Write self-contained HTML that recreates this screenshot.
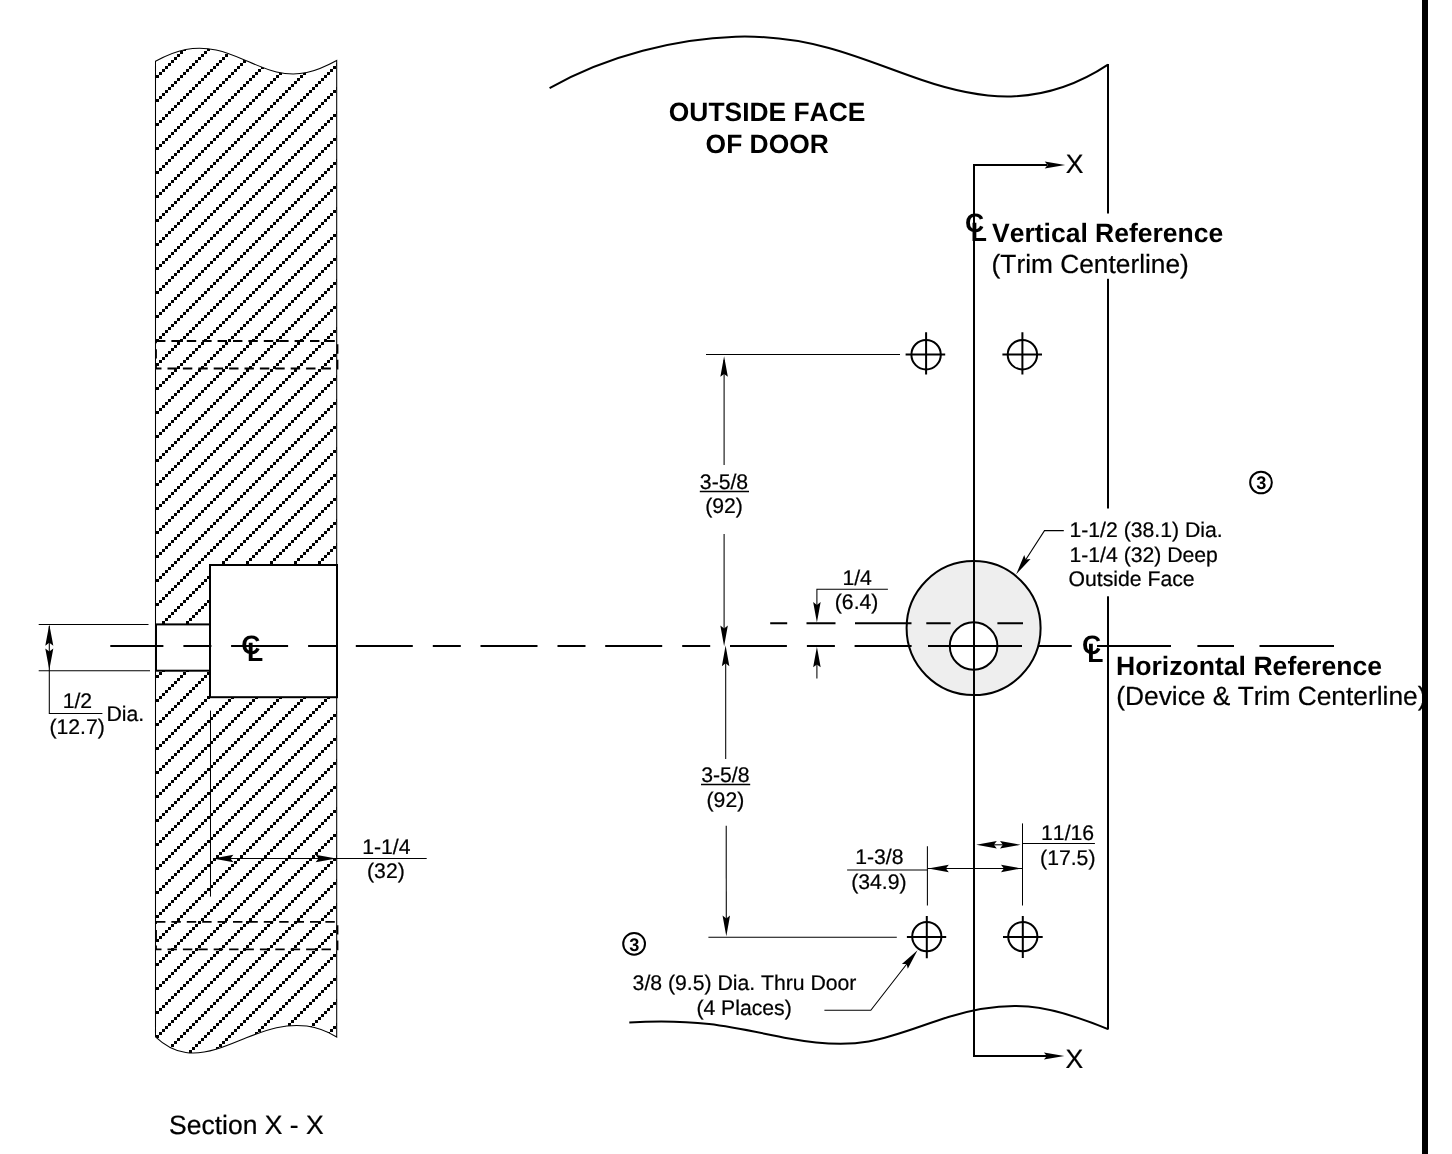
<!DOCTYPE html>
<html lang="en">
<head>
<meta charset="utf-8">
<title>Door Preparation Template</title>
<style>
html,body{margin:0;padding:0;background:#fff;}
body{width:1452px;height:1154px;overflow:hidden;}
svg{display:block;will-change:transform;}
text{font-family:"Liberation Sans",Arial,Helvetica,sans-serif;fill:#000;stroke:none;font-kerning:none;font-variant-ligatures:none;text-rendering:geometricPrecision;}
.d{font-size:21.2px;stroke:#000;stroke-width:.22px;}
.b{font-size:26.5px;font-weight:bold;}
.r{font-size:26.5px;stroke:#000;stroke-width:.22px;}
.k{stroke:#000;stroke-width:2;}
.t{stroke:#000;stroke-width:1.05;}
.a{fill:#000;stroke:none;}
</style>
</head>
<body>
<svg width="1452" height="1154" viewBox="0 0 1452 1154" fill="none">
<defs>
<pattern id="hatch" x="0" y="0" width="24" height="24" patternUnits="userSpaceOnUse" shape-rendering="crispEdges" fill="#000">
<rect x="0" y="15" width="3" height="3"/><rect x="3" y="12" width="3" height="3"/><rect x="6" y="9" width="3" height="3"/><rect x="9" y="6" width="3" height="3"/><rect x="12" y="3" width="3" height="3"/><rect x="15" y="0" width="3" height="3"/><rect x="18" y="21" width="3" height="3"/><rect x="21" y="18" width="3" height="3"/>
</pattern>
<!-- arrowhead pointing right, tip at 0,0 -->
<path id="ah" d="M0.2,0 L-20.4,-3.75 L-17.5,0 L-20.4,3.75 Z"/>
<path id="ah2" d="M0,0 L-20.5,-3.5 L-17.5,0 L-20.5,3.5 Z"/>
</defs>
<rect width="1452" height="1154" fill="#fff"/>

<!-- ============ LEFT: SECTION X-X ============ -->
<g id="section">
<path d="M155.5,61.2 C165.7,55.7 175.8,51.4 185.8,49.5 C195.9,47.5 206.0,47.8 216.1,50.0 C226.1,52.2 236.2,56.3 246.3,60.7 C256.4,65.1 266.5,69.6 276.5,72.0 C286.6,74.4 296.7,74.7 306.8,72.6 C316.8,70.4 326.9,65.8 336.7,60.5 L336.7,1037 C326.9,1031.1 316.8,1027.5 306.8,1026.1 C296.7,1024.7 286.6,1025.5 276.5,1027.7 C266.5,1030.0 256.4,1033.8 246.3,1037.8 C236.2,1041.9 226.1,1046.3 216.1,1049.3 C206.0,1052.3 195.9,1054.0 185.8,1052.5 C175.8,1051.1 165.7,1046.5 155.5,1036.8 Z" fill="url(#hatch)" class="t"/>
<!-- hidden-line rectangles -->
<rect x="156" y="341" width="181.5" height="27.5" class="k" style="stroke-width:1.8" stroke-dasharray="9.4 6"/>
<rect x="156" y="921.9" width="181.5" height="27.5" class="k" style="stroke-width:1.8" stroke-dasharray="9.4 6"/>
<!-- recess + hole -->
<rect x="210" y="565" width="127" height="132.2" fill="#fff" class="k"/>
<rect x="156" y="624.4" width="54" height="46.3" fill="#fff" class="k"/>
<!-- 1-1/4 dimension -->
<line x1="210.5" y1="710.6" x2="210.5" y2="896.6" class="t"/>
<line x1="213" y1="858.4" x2="426.7" y2="858.4" class="t"/>
<use href="#ah" transform="translate(336,858.4)" class="a"/>
<use href="#ah" transform="translate(213,858.4) rotate(180)" class="a"/>
<text class="d" x="386.3" y="854" text-anchor="middle">1-1/4</text>
<text class="d" x="385.9" y="878" text-anchor="middle">(32)</text>
<!-- 1/2 dia dimension -->
<line x1="38.7" y1="624.4" x2="148.5" y2="624.4" class="t"/>
<line x1="38.7" y1="670.8" x2="150" y2="670.8" class="t"/>
<path d="M49.3,626 L49.3,713.4 L102.4,713.4" class="t"/>
<use href="#ah" transform="translate(49.3,624.7) rotate(-90) scale(1.03,1.07)" class="a"/>
<use href="#ah" transform="translate(49.3,669.6) rotate(90) scale(1.03,1.07)" class="a"/>
<text class="d" x="77.4" y="708.4" text-anchor="middle">1/2</text>
<text class="d" x="77.1" y="733.6" text-anchor="middle">(12.7)</text>
<text class="d" x="106.5" y="720.6">Dia.</text>
</g>

<!-- ============ RIGHT: DOOR FACE ============ -->
<g id="face">
<!-- door outline -->
<path d="M549.6,88.1 C580.6,70.4 611.6,58.9 642.7,50.7 C673.7,42.5 704.7,37.7 735.7,36.7 C766.8,35.8 797.8,39.5 828.8,48.0 C859.8,56.4 890.8,69.5 921.9,80.0 C952.9,90.6 983.9,97.8 1014.9,96.3 C1046.0,94.7 1077.0,85.1 1108.0,64.6" class="k"/>
<path d="M629.3,1022.4 C655.9,1020.8 682.5,1020.9 709.1,1024.1 C735.7,1027.2 762.3,1033.5 788.9,1038.4 C815.5,1043.3 842.1,1046.0 868.6,1041.4 C895.2,1036.8 921.8,1025.3 948.4,1017.0 C975.0,1008.8 1001.6,1004.3 1028.2,1006.6 C1054.8,1008.9 1081.4,1018.2 1108.0,1029.1" class="k"/>
<line x1="1108" y1="64" x2="1108" y2="1029.5" class="k"/>
<!-- big circle -->
<circle cx="973.6" cy="628.1" r="67" fill="#eeeeee" class="k"/>
<!-- upper dashed (1/4 offset) line -->
<path d="M770.2,623.3 H787.2 M806.5,623.3 H835.5 M855,623.3 H911.5 M926.3,623.3 H950.6 M997.4,623.3 H1023" class="k"/>
<circle cx="973.6" cy="646" r="23.8" fill="#fff" class="k"/>
<!-- section cut line -->
<path d="M1047,165 H974 V1056 H1047" class="k"/>
<use href="#ah2" transform="translate(1065.2,165)" class="a"/>
<use href="#ah2" transform="translate(1064.4,1056)" class="a"/>
<text class="r" x="1065.8" y="173.3">X</text>
<text class="r" x="1065.6" y="1067.7">X</text>
</g>

<!-- main horizontal centerline -->
<line x1="110.3" y1="646" x2="911.7" y2="646" class="k" stroke-dasharray="57 20 28 19.7" stroke-dashoffset="3.9"/>
<path d="M928,646 H1022 M1038.5,646 H1071.8 M1097,646 H1171 M1197.4,646 H1234 M1259.5,646 H1334" class="k"/>

<!-- white masks behind text -->
<rect x="988" y="213.5" width="240" height="65.3" fill="#fff"/>
<rect x="1066" y="508.5" width="160" height="87.8" fill="#fff"/>
<rect x="711" y="636" width="19" height="20" fill="#fff"/>

<!-- crosshair holes -->
<g id="holes" class="k">
<circle cx="926.1" cy="354.7" r="14.7"/><path d="M905.6,354.5 H945.2 M926.1,332.3 V374.4"/>
<circle cx="1022.4" cy="354.7" r="14.7"/><path d="M1002.4,354.5 H1042 M1022.4,332.3 V374.4"/>
<circle cx="926.8" cy="936.6" r="14.6"/><path d="M906.9,937 H946.2 M926.8,916 V958.3"/>
<circle cx="1022.8" cy="936.6" r="14.6"/><path d="M1003,937 H1042.7 M1022.8,916 V958"/>
</g>

<!-- 3-5/8 dimensions -->
<line x1="706" y1="354.5" x2="900" y2="354.5" class="t"/>
<line x1="708.4" y1="937.2" x2="896.8" y2="937.2" class="t"/>
<line x1="724.1" y1="360" x2="724.1" y2="465" class="t"/>
<line x1="724.1" y1="534" x2="724.1" y2="640" class="t"/>
<use href="#ah" transform="translate(724.1,356.4) rotate(-90)" class="a"/>
<use href="#ah" transform="translate(724.1,646) rotate(90)" class="a"/>
<line x1="725.7" y1="652" x2="725.7" y2="759" class="t"/>
<line x1="726.2" y1="825.7" x2="726.3" y2="930" class="t"/>
<use href="#ah" transform="translate(725.6,645.8) rotate(-90)" class="a"/>
<use href="#ah" transform="translate(726.3,936) rotate(90)" class="a"/>
<text class="d" x="724" y="488.7" text-anchor="middle">3-5/8</text>
<line x1="699.8" y1="491.5" x2="749" y2="491.5" class="t" style="stroke-width:1.3"/>
<text class="d" x="724" y="512.9" text-anchor="middle">(92)</text>
<text class="d" x="725.3" y="782" text-anchor="middle">3-5/8</text>
<line x1="701" y1="784.5" x2="750.2" y2="784.5" class="t" style="stroke-width:1.3"/>
<text class="d" x="725.4" y="806.8" text-anchor="middle">(92)</text>

<!-- 1/4 dimension -->
<path d="M887.9,589.2 H816.9 V605" class="t"/>
<use href="#ah" transform="translate(816.9,622.4) rotate(90)" class="a"/>
<line x1="816.9" y1="664" x2="816.9" y2="678.5" class="t"/>
<use href="#ah" transform="translate(816.9,646.9) rotate(-90)" class="a"/>
<text class="d" x="857.2" y="584.5" text-anchor="middle">1/4</text>
<text class="d" x="856.6" y="608.8" text-anchor="middle">(6.4)</text>

<!-- 1-3/8 and 11/16 dimensions -->
<line x1="927.4" y1="846.3" x2="927.4" y2="905.5" class="t"/>
<line x1="1022.5" y1="823.4" x2="1022.5" y2="905.5" class="t"/>
<line x1="847.1" y1="870" x2="927.4" y2="870" class="t"/><line x1="928" y1="868.4" x2="1022" y2="868.4" class="t"/>
<use href="#ah" transform="translate(928.4,868.4) rotate(180)" class="a"/>
<use href="#ah" transform="translate(1021.4,868.4)" class="a"/>
<line x1="1022.4" y1="843.4" x2="1094.9" y2="843.4" class="t"/><line x1="990" y1="844.8" x2="1008" y2="844.8" class="t"/>
<use href="#ah" transform="translate(976.4,844.8) rotate(180)" class="a"/>
<use href="#ah" transform="translate(1020.4,844.8)" class="a"/>
<text class="d" x="879.3" y="863.8" text-anchor="middle">1-3/8</text>
<text class="d" x="878.9" y="889" text-anchor="middle">(34.9)</text>
<text class="d" x="1067.6" y="839.5" text-anchor="middle">11/16</text>
<text class="d" x="1067.8" y="864.5" text-anchor="middle">(17.5)</text>

<!-- leaders -->
<path d="M1063.8,530.6 H1044.5 L1021,567" class="t"/>
<use href="#ah" transform="translate(1016.3,574.2) rotate(122.9)" class="a"/>
<path d="M824.4,1010.3 H870.8 L913,956" class="t"/>
<use href="#ah" transform="translate(917.4,950.3) rotate(-52)" class="a"/>

<!-- notes -->
<text class="d" x="1069.5" y="537.2">1-1/2 (38.1) Dia.</text>
<text class="d" x="1069.5" y="562">1-1/4 (32) Deep</text>
<text class="d" x="1068.6" y="585.9">Outside Face</text>
<text class="d" x="632.6" y="990.2">3/8 (9.5) Dia. Thru Door</text>
<text class="d" x="696.4" y="1015">(4 Places)</text>

<!-- circled 3 -->
<circle cx="1261" cy="482.5" r="10.85" class="k"/>
<text x="1261.3" y="489" text-anchor="middle" font-size="18.2" font-weight="bold">3</text>
<circle cx="634.1" cy="943.8" r="10.9" class="k"/>
<text x="634.3" y="950.9" text-anchor="middle" font-size="18.2" font-weight="bold">3</text>

<!-- titles -->
<text class="b" x="767.1" y="120.5" text-anchor="middle" style="font-size:26.4px">OUTSIDE FACE</text>
<text class="b" x="767.2" y="152.6" text-anchor="middle" style="font-size:26.4px">OF DOOR</text>
<text class="b" x="965" y="232">C</text>
<text class="b" x="970.8" y="241.2">L</text>
<text class="b" x="992" y="241.6">Vertical Reference</text>
<text class="r" x="991.6" y="272.6" style="font-size:26.3px">(Trim Centerline)</text>
<text class="b" x="1081.9" y="654.4">C</text>
<text class="b" x="1087.2" y="661.7">L</text>
<text class="b" x="1116" y="674.7" style="font-size:26.6px">Horizontal Reference</text>
<text class="r" x="1116.2" y="705.4" style="font-size:26.35px">(Device &amp; Trim Centerline)</text>
<text class="b" x="241.3" y="654.4">C</text>
<text class="b" x="247" y="661.4">L</text>
<text class="r" x="169" y="1134">Section X - X</text>

<!-- right-edge bar -->
<rect x="1422" y="0" width="6" height="1154" fill="#000"/>
</svg>
</body>
</html>
